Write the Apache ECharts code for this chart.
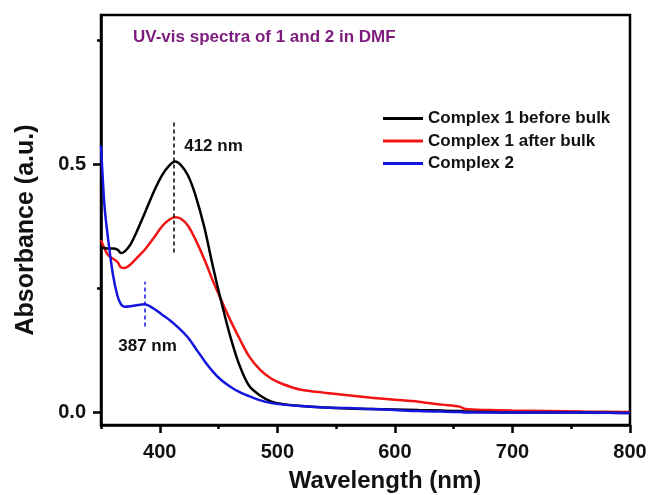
<!DOCTYPE html>
<html>
<head>
<meta charset="utf-8">
<script src="https://cdn.jsdelivr.net/npm/echarts@6/dist/echarts.min.js"></script>
<style>html,body{margin:0;padding:0;background:#fff}#c{width:651px;height:495px}</style>
</head>
<body>
<div id="c"></div>
<script>
var wavelengths = [350,353,356,360,364,367,370,375,380,387,395,402,408,413,418,424,430,438,445,452,460,468,476,485,495,505,520,540,560,580,600,620,640,655,660,680,700,730,760,800];
var before = [0.332,0.331,0.330,0.330,0.328,0.321,0.324,0.338,0.362,0.400,0.445,0.478,0.497,0.505,0.498,0.477,0.440,0.372,0.296,0.226,0.153,0.094,0.054,0.035,0.022,0.017,0.013,0.010,0.008,0.007,0.006,0.005,0.004,0.003,0.002,0.001,0.000,0.000,0.000,-0.001];
var after = [0.347,0.330,0.317,0.310,0.303,0.292,0.291,0.298,0.310,0.327,0.352,0.375,0.388,0.393,0.390,0.376,0.350,0.308,0.266,0.228,0.186,0.148,0.113,0.087,0.068,0.057,0.046,0.040,0.035,0.030,0.026,0.022,0.016,0.012,0.007,0.005,0.004,0.003,0.002,0.001];
var complex2 = [0.538,0.415,0.350,0.280,0.235,0.218,0.213,0.214,0.216,0.218,0.209,0.197,0.187,0.177,0.166,0.151,0.131,0.104,0.083,0.066,0.052,0.041,0.033,0.025,0.019,0.016,0.013,0.010,0.009,0.007,0.005,0.003,0.002,0.001,0.000,0.000,0.000,0.000,0.000,-0.001];
var seriesNames = ['Complex 1 before bulk','Complex 1 after bulk','Complex 2'];
var xMajorTicks = [400,500,600,700,800];
var xMinorTicks = [350,450,550,650,750];
var yMajorTicks = [0,0.5];
var yMinorTicks = [0.25,0.75];
var peak1 = {nm:412, from:0.322, to:0.585, label:'412 nm', lx:445.7, ly:0.536};
var peak2 = {nm:387, from:0.173, to:0.263, label:'387 nm', lx:389.6, ly:0.134};

var FONT = 'Liberation Sans, Arial, sans-serif';
function pairs(ys){ return wavelengths.map(function(w,i){ return [w, ys[i]]; }); }

var chart = echarts.init(document.getElementById('c'), null, {renderer:'canvas'});
chart.setOption({
  animation:false,
  backgroundColor:'#fff',
  title:{text:'UV-vis spectra of 1 and 2 in DMF', left:133, top:29, padding:0,
    textStyle:{color:'#7d1a7d', fontSize:17, fontWeight:'bold', fontFamily:FONT}},
  legend:{orient:'vertical', left:383, top:110, padding:0, itemWidth:40, itemHeight:3, itemGap:5.5,
    icon:'rect', data:seriesNames,
    textStyle:{fontSize:17, fontWeight:'bold', color:'#111', fontFamily:FONT}},
  grid:{left:101, right:21, top:15, bottom:70, show:true, borderColor:'#000', borderWidth:2.5, containLabel:false},
  xAxis:[
    {type:'value', min:350, max:800, position:'bottom',
     axisLine:{show:true, onZero:false, lineStyle:{color:'#000', width:2.5}},
     axisTick:{show:true, customValues:xMajorTicks, length:8, lineStyle:{color:'#000', width:2.5}},
     axisLabel:{show:true, customValues:xMajorTicks, margin:17, fontSize:20, fontWeight:'bold', color:'#111', fontFamily:FONT},
     splitLine:{show:false}},
    {type:'value', min:350, max:800, position:'bottom',
     axisLine:{show:false, onZero:false},
     axisTick:{show:true, customValues:xMinorTicks, length:4, lineStyle:{color:'#000', width:2.5}},
     axisLabel:{show:false}, splitLine:{show:false}}
  ],
  yAxis:[
    {type:'value', min:-0.025, max:0.8, position:'left',
     axisLine:{show:true, onZero:false, lineStyle:{color:'#000', width:2.5}},
     axisTick:{show:true, customValues:yMajorTicks, length:8, lineStyle:{color:'#000', width:2.5}},
     axisLabel:{show:true, customValues:yMajorTicks, margin:15, fontSize:20, fontWeight:'bold', color:'#111', fontFamily:FONT,
       formatter:function(v){return v.toFixed(1);}},
     splitLine:{show:false}},
    {type:'value', min:-0.025, max:0.8, position:'left',
     axisLine:{show:false, onZero:false},
     axisTick:{show:true, customValues:yMinorTicks, length:4, lineStyle:{color:'#000', width:2.5}},
     axisLabel:{show:false}, splitLine:{show:false}}
  ],
  graphic:[
    {type:'text', x:26, y:230, rotation:Math.PI/2,
     style:{text:'Absorbance (a.u.)', fontSize:25, fontWeight:'bold', fill:'#111', fontFamily:FONT, align:'center', verticalAlign:'middle'}},
    {type:'text', x:385, y:481,
     style:{text:'Wavelength (nm)', fontSize:24, fontWeight:'bold', fill:'#111', fontFamily:FONT, align:'center', verticalAlign:'middle'}}
  ],
  series:[
    {name:seriesNames[0], type:'line', data:pairs(before), showSymbol:false, smooth:0.3, z:4,
     lineStyle:{color:'#000', width:2.5}, itemStyle:{color:'#000'},
     markLine:{silent:true, symbol:['none','none'], label:{show:false},
       lineStyle:{type:[4,3], color:'#000', width:1.5},
       data:[[{coord:[peak1.nm, peak1.from]},{coord:[peak1.nm, peak1.to]}]]},
     markPoint:{silent:true, symbol:'circle', symbolSize:0,
       label:{show:true, position:'inside', formatter:peak1.label, fontSize:17, fontWeight:'bold', color:'#111', fontFamily:FONT},
       data:[{coord:[peak1.lx, peak1.ly]}]}},
    {name:seriesNames[1], type:'line', data:pairs(after), showSymbol:false, smooth:0.3, z:3,
     lineStyle:{color:'#f01414', width:2.5}, itemStyle:{color:'#f01414'}},
    {name:seriesNames[2], type:'line', data:pairs(complex2), showSymbol:false, smooth:0.3, z:5,
     lineStyle:{color:'#1515e0', width:2.5}, itemStyle:{color:'#1515e0'},
     markLine:{silent:true, symbol:['none','none'], label:{show:false},
       lineStyle:{type:[4,3], color:'#1515e0', width:1.5},
       data:[[{coord:[peak2.nm, peak2.from]},{coord:[peak2.nm, peak2.to]}]]},
     markPoint:{silent:true, symbol:'circle', symbolSize:0,
       label:{show:true, position:'inside', formatter:peak2.label, fontSize:17, fontWeight:'bold', color:'#111', fontFamily:FONT},
       data:[{coord:[peak2.lx, peak2.ly]}]}}
  ]
});
</script>
</body>
</html>
